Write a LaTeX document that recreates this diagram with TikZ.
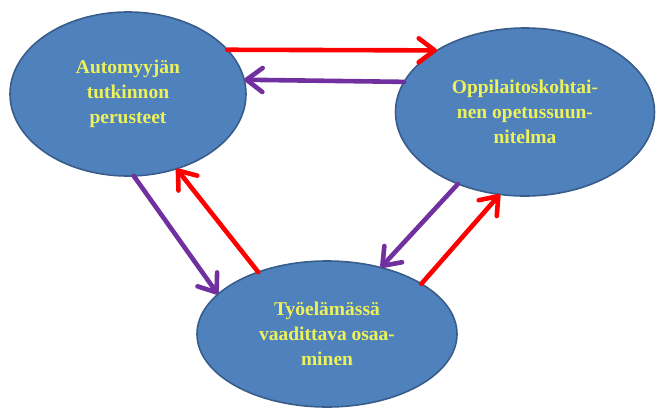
\documentclass[tikz,border=0pt]{standalone}
\usepackage{fontspec}
\setmainfont{Liberation Serif}
\usetikzlibrary{shapes.geometric,arrows.meta}
\definecolor{ovalfill}{RGB}{79,129,189}
\definecolor{ovalline}{RGB}{56,93,138}
\definecolor{ovaltext}{RGB}{238,242,90}
\definecolor{redline}{RGB}{255,0,0}
\definecolor{purpleline}{RGB}{112,48,160}
\tikzset{
  oval/.style={ellipse, draw=ovalline, line width=1.6pt, fill=ovalfill,
    inner sep=0pt, outer sep=0pt, align=center, text=ovaltext,
    font=\rmfamily\bfseries\fontsize{19.5}{25}\selectfont},
  flow/.style={line width=4.6pt, line cap=round,
    -{Straight Barb[length=16pt, width=24pt, line cap=round, line join=round]}},
  redflow/.style={flow, draw=redline},
  purpleflow/.style={flow, draw=purpleline},
}
\begin{document}
\begin{tikzpicture}[x=1pt, y=-1pt]
  \useasboundingbox (0,0) rectangle (656,408);

  % the three ovals
  \node[oval, minimum width=236pt, minimum height=164pt] (A) at (128,94)
    {Automyyjän\\tutkinnon\\perusteet};
  \node[oval, minimum width=259pt, minimum height=168pt] (B) at (525,112)
    {Oppilaitoskohtai-\\nen opetussuun-\\nitelma};
  \node[oval, minimum width=260pt, minimum height=146pt] (C) at (327,334)
    {Työelämässä\\vaadittava osaa-\\minen};

  % arrows between the top ovals
  \draw[redflow] (A.24) -- (B.145);
  \draw[purpleflow] (B.166) -- (A.7);

  % arrows between the left and bottom ovals
  \draw[purpleflow] (A.-86) -- (C.160);
  \draw[redflow] (C.138) -- (A.-57);

  % arrows between the right and bottom ovals
  \draw[purpleflow] (B.-133) -- (C.51);
  \draw[redflow] (C.28) -- (B.-107);
\end{tikzpicture}
\end{document}
